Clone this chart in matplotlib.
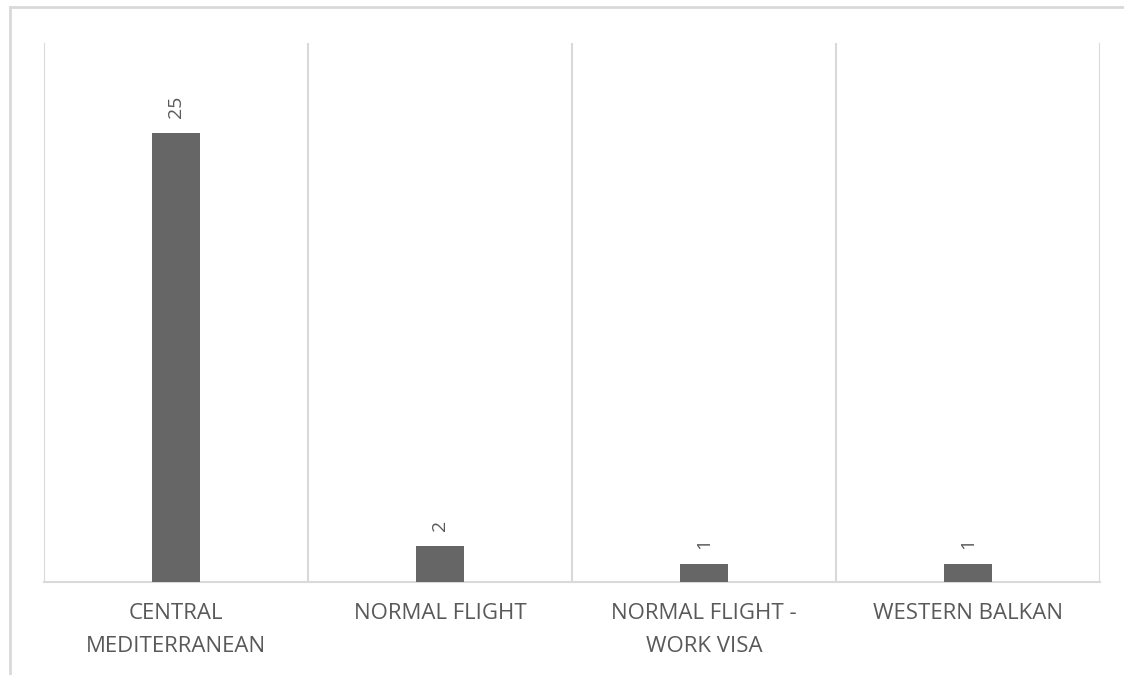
import matplotlib.pyplot as plt
from matplotlib.lines import Line2D

routes = ['CENTRAL\nMEDITERRANEAN', 'NORMAL FLIGHT', 'NORMAL FLIGHT -\nWORK VISA', 'WESTERN BALKAN']
counts = [25, 2, 1, 1]

grid_col = '#d9d9d9'
text_col = '#595959'

plt.rcParams['font.family'] = ['Open Sans', 'DejaVu Sans']

fig = plt.figure(figsize=(11.24, 6.75), dpi=100)
ax = fig.add_axes([44 / 1124, 1 - 582 / 675, (1100 - 44) / 1124, (582 - 43) / 675])

x = range(len(counts))
bars = ax.bar(x, counts, width=0.18, color='#666666', zorder=3)

# value labels, turned sideways above each bar
for b, v in zip(bars, counts):
    ax.annotate(str(v), (b.get_x() + b.get_width() / 2, v), xytext=(0, 11),
                textcoords='offset points', rotation=90, ha='center', va='bottom',
                fontsize=14, color=text_col)

ax.set_xlim(-0.5, len(counts) - 0.5)
ax.set_ylim(0, 30)

# vertical separators between categories
for xb in [i - 0.5 for i in range(len(counts) + 1)]:
    ax.axvline(xb, color=grid_col, lw=1.5, zorder=1)

for s in ['top', 'right', 'left']:
    ax.spines[s].set_visible(False)
ax.spines['bottom'].set_color(grid_col)
ax.spines['bottom'].set_linewidth(1.5)

ax.set_yticks([])
ax.set_xticks(list(x))
ax.set_xticklabels(routes, fontsize=16, color=text_col, linespacing=1.75)
ax.tick_params(axis='x', length=0, pad=15)

# outer frame along top and left edge
fig.add_artist(Line2D([10 / 1124, 1], [1 - 7 / 675, 1 - 7 / 675], color=grid_col, lw=2))
fig.add_artist(Line2D([10 / 1124, 10 / 1124], [1 - 7 / 675, 0], color=grid_col, lw=2))

fig.savefig('out.png', dpi=100)
